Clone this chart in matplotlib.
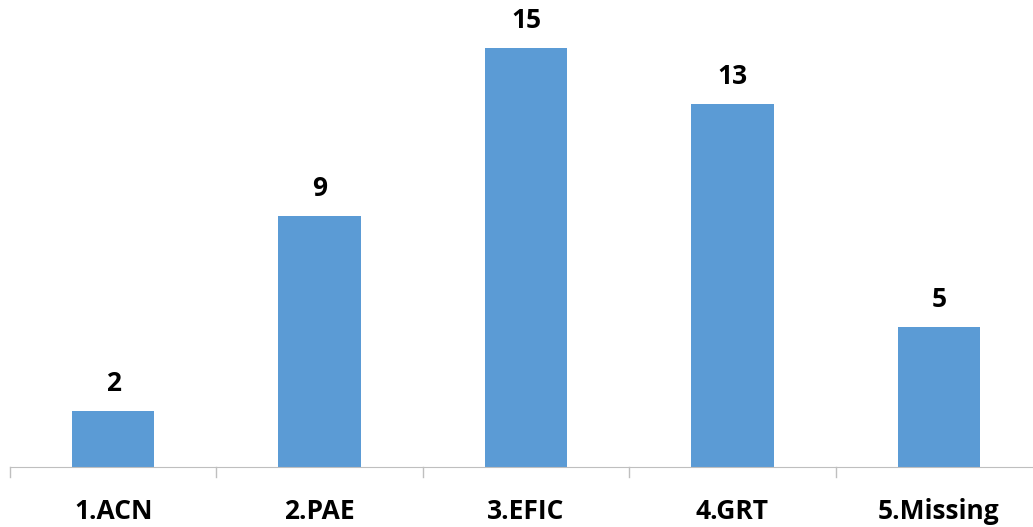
import matplotlib
matplotlib.use('agg')
import matplotlib.pyplot as plt
import numpy as np

categories = ['1.ACN', '2.PAE', '3.EFIC', '4.GRT', '5.Missing']
counts = [2, 9, 15, 13, 5]

plt.rcParams['font.family'] = ['Open Sans', 'DejaVu Sans']

fig = plt.figure(figsize=(10.33, 5.27), dpi=100)
ax = fig.add_axes([10 / 1033, 60 / 527, 1032 / 1033, 467 / 527])

x = np.arange(len(categories))
bars = ax.bar(x, counts, width=0.4, color='#5B9BD5')

for b, v in zip(bars, counts):
    ax.annotate(str(v), (b.get_x() + b.get_width() / 2, v),
                xytext=(0, 10), textcoords='offset points',
                ha='center', va='bottom', fontsize=19, fontweight='bold')

ax.set_xlim(-0.5, len(categories) - 0.5)
ax.set_ylim(0, 16.72)

# category separators below the axis line
ax.set_xticks(x)
ax.set_xticklabels(categories, fontsize=19, fontweight='bold')
ax.tick_params(axis='x', length=0, pad=22)
for edge in np.arange(-0.5, len(categories), 1.0):
    ax.plot([edge, edge], [0, -0.36], color='#BFBFBF', lw=1, clip_on=False)

ax.set_yticks([])
for side in ['left', 'right', 'top']:
    ax.spines[side].set_visible(False)
ax.spines['bottom'].set_color('#BFBFBF')

fig.savefig('out.png', dpi=100, facecolor='white')
